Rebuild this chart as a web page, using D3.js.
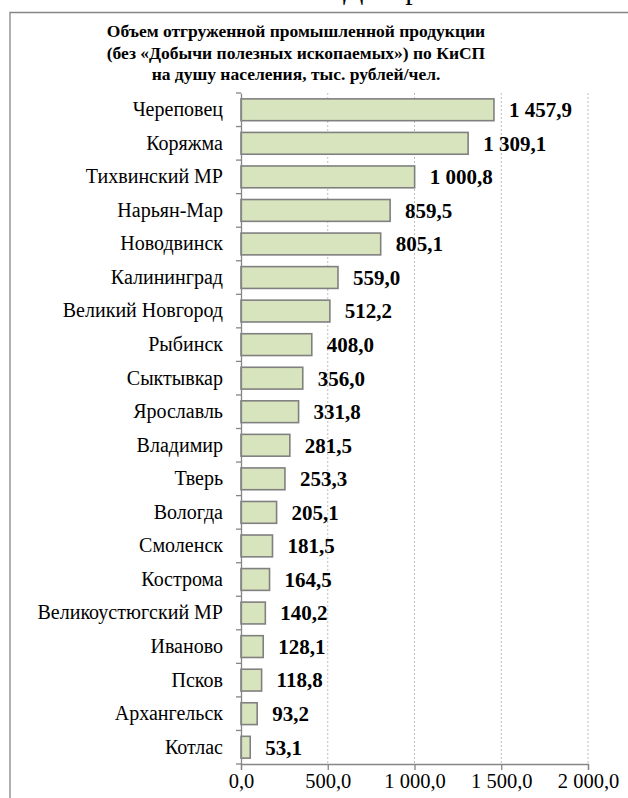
<!DOCTYPE html>
<head>
  <meta charset="utf-8">
  <script src="https://d3js.org/d3.v7.min.js"></script>
  <style>
    body { margin:0; background:#fff; }
  </style>
</head>
<body>
<script>
// data
var cities = ["Череповец", "Коряжма", "Тихвинский МР", "Нарьян-Мар", "Новодвинск",
  "Калининград", "Великий Новгород", "Рыбинск", "Сыктывкар", "Ярославль",
  "Владимир", "Тверь", "Вологда", "Смоленск", "Кострома",
  "Великоустюгский МР", "Иваново", "Псков", "Архангельск", "Котлас"];
var values = [1457.9, 1309.1, 1000.8, 859.5, 805.1,
  559.0, 512.2, 408.0, 356.0, 331.8,
  281.5, 253.3, 205.1, 181.5, 164.5,
  140.2, 128.1, 118.8, 93.2, 53.1];
var xTicks = [0, 500, 1000, 1500, 2000];
var titleLines = ["Объем отгруженной промышленной продукции",
  "(без «Добычи полезных ископаемых») по КиСП",
  "на душу населения, тыс. рублей/чел."];

var width = 628, height = 798;
var serif = "'Liberation Serif'";
var svg = d3.select("body").append("svg")
  .attr("width", width)
  .attr("height", height);

var ru = d3.formatLocale({decimal: ",", thousands: " ", grouping: [3], currency: ["", ""]});
var fmt = ru.format(",.1f");

var data = cities.map(function(c, i) { return {name: c, value: values[i]}; });

var plotTop = 93, plotBottom = 764, plotLeft = 241, plotRight = 588;
var x = d3.scaleLinear().domain([0, 2000]).range([plotLeft, plotRight]);
var y = d3.scaleBand().domain(cities).range([plotTop, plotBottom])
  .paddingInner(0.35).paddingOuter(0.175);

// cut-off heading above the chart frame (only descenders show)
svg.append("text")
  .attr("x", 343).attr("y", -1)
  .style("font-size", "30px")
  .text("Диаграмма");

// outer frame (only top and left visible)
svg.append("path")
  .attr("d", "M10,798V12.5H628")
  .attr("fill", "none")
  .attr("stroke", "#868686")
  .attr("stroke-width", 1.3);

// title
svg.append("g").selectAll("text").data(titleLines).enter().append("text")
  .attr("x", 296)
  .attr("y", function(d, i) { return 37 + i * 21.7; })
  .attr("text-anchor", "middle")
  .style("font-size", "17.5px")
  .style("font-weight", "bold")
  .text(function(d) { return d; });

// grid lines
svg.append("g").selectAll("line").data(xTicks.slice(1)).enter().append("line")
  .attr("x1", function(d) { return x(d); })
  .attr("x2", function(d) { return x(d); })
  .attr("y1", plotTop).attr("y2", plotBottom)
  .attr("stroke", "#bdbdbd")
  .attr("stroke-width", 1)
  .attr("stroke-dasharray", "2,2");

// bars
svg.append("g").selectAll("rect").data(data).enter().append("rect")
  .attr("x", x(0))
  .attr("y", function(d) { return y(d.name); })
  .attr("width", function(d) { return x(d.value) - x(0); })
  .attr("height", y.bandwidth())
  .attr("fill", "#d7e4bd")
  .attr("stroke", "#808080")
  .attr("stroke-width", 1.6);

// value labels
svg.append("g").selectAll("text").data(data).enter().append("text")
  .attr("x", function(d) { return x(d.value) + 15; })
  .attr("y", function(d) { return y(d.name) + y.bandwidth() / 2; })
  .attr("dy", "0.35em")
  .style("font-size", "21px")
  .style("font-weight", "bold")
  .text(function(d) { return fmt(d.value); });

// x axis
var xAxis = svg.append("g")
  .attr("transform", "translate(0," + plotBottom + ")")
  .call(d3.axisBottom(x).tickValues(xTicks).tickSize(6).tickPadding(3.5).tickFormat(fmt));
xAxis.select(".domain").attr("stroke", "#868686").attr("stroke-width", 1.3);
xAxis.selectAll(".tick line").attr("stroke", "#868686").attr("stroke-width", 1.3);
xAxis.selectAll(".tick text").style("font-size", "20.5px");

// y axis
var yAxis = svg.append("g")
  .attr("transform", "translate(" + plotLeft + ",0)")
  .call(d3.axisLeft(y).tickSize(0).tickPadding(18));
yAxis.select(".domain").attr("stroke", "#868686").attr("stroke-width", 1.3);
yAxis.selectAll(".tick text").style("font-size", "20px");
// category separators on the y axis
var seps = d3.range(cities.length + 1).map(function(i) { return plotTop + i * y.step(); });
yAxis.selectAll(".sep").data(seps).enter().append("line")
  .attr("class", "sep")
  .attr("x1", -5).attr("x2", 0)
  .attr("y1", function(d) { return d; }).attr("y2", function(d) { return d; })
  .attr("stroke", "#868686")
  .attr("stroke-width", 1.3);

// every text in Times-like serif, black
svg.selectAll("text")
  .style("font-family", serif)
  .attr("fill", "#000");
</script>
</body>
</html>
